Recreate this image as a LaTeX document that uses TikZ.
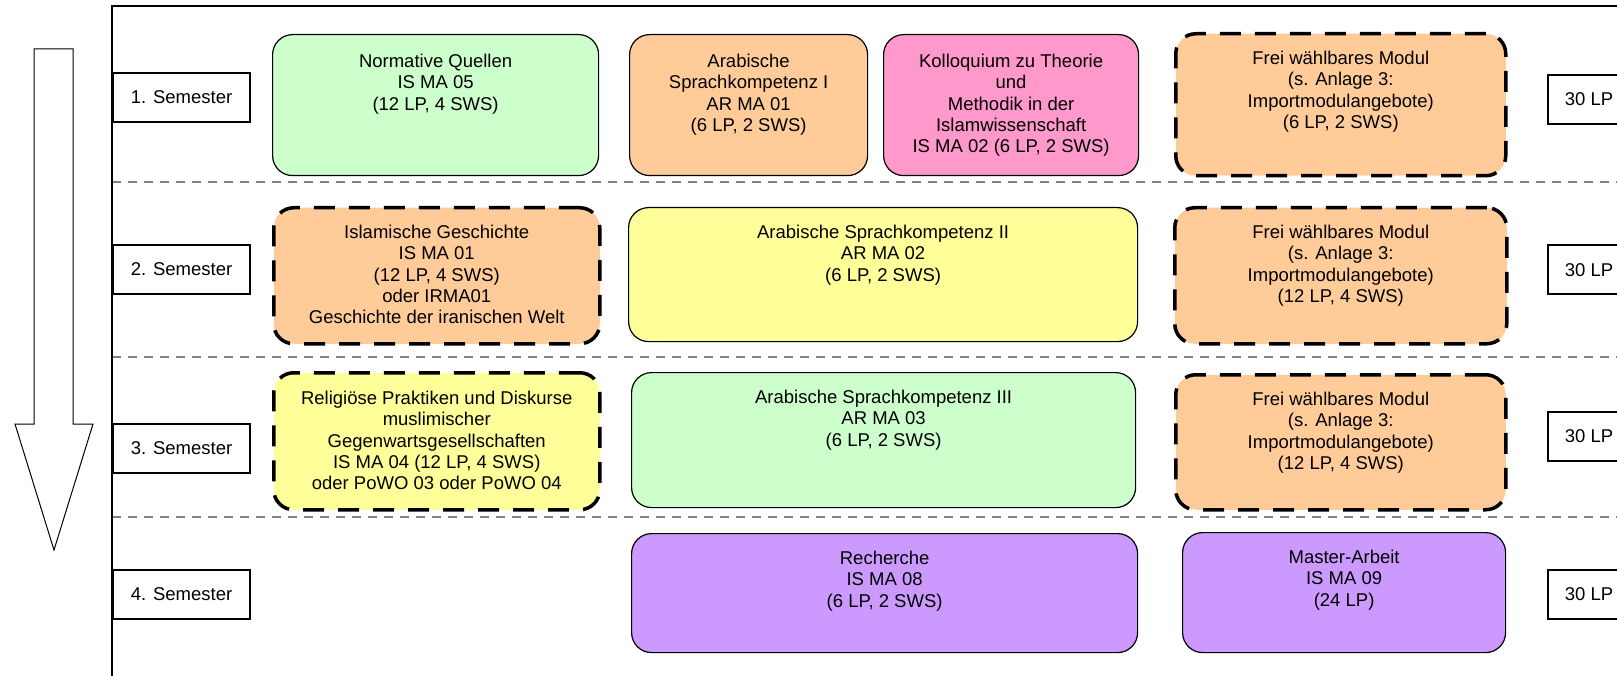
\documentclass[tikz,border=0pt]{standalone}
\usepackage{fontspec}
\setmainfont{Liberation Sans}
\usetikzlibrary{positioning}

\definecolor{modgruen}{HTML}{CCFFCC}
\definecolor{modorange}{HTML}{FFCC99}
\definecolor{modrosa}{HTML}{FF99CC}
\definecolor{modgelb}{HTML}{FFFF99}
\definecolor{modlila}{HTML}{CC99FF}

\tikzset{
  modul/.style={draw, line width=1.2pt, rounded corners=20pt, anchor=north west, inner sep=0pt},
  wahlmodul/.style={modul, line width=3.5pt, dash pattern=on 21pt off 14pt},
  modtext/.style={align=center, inner sep=0pt},
  semester/.style={draw, fill=white, line width=2pt, minimum width=137pt, minimum height=49pt, inner sep=0pt, anchor=west},
  trenner/.style={draw=black!50, line width=1.5pt, dash pattern=on 9pt off 7pt}
}

\begin{document}
\begin{tikzpicture}[x=1pt, y=-1pt, font=\fontsize{18.5}{21.2}\selectfont]
\useasboundingbox (0,0) rectangle (1617,676);
\clip (0,0) rectangle (1617,676);

% Pfeil links
\draw[line width=1pt, fill=white] (34,49) -- (73,49) -- (73,424) -- (93,424) -- (54,550) -- (15,424) -- (34,424) -- cycle;

% Rahmen und Trennlinien
\foreach \y in {182,357,517}
  \draw[trenner] (112,\y) -- (1617,\y);
\draw[line width=2pt] (1640,6) -- (112,6) -- (112,700);

\node[semester] (sem1) at (112,97.5) {1. Semester};
\node[semester] (sem2) at (112,269.5) {2. Semester};
\node[semester] (sem3) at (112,448.5) {3. Semester};
\node[semester] (sem4) at (112,594) {4. Semester};

\node[semester, minimum width=82pt] (lp1) at (1547,99.5) {30 LP};
\node[semester, minimum width=82pt] (lp2) at (1547,270) {30 LP};
\node[semester, minimum width=82pt] (lp3) at (1547,436) {30 LP};
\node[semester, minimum width=82pt] (lp4) at (1547,594) {30 LP};

% 1. Semester
\node[modul, fill=modgruen, minimum width=326pt, minimum height=141pt] (nq) at (272,34) {};
\node[modtext, below=20pt of nq.north] (nqtext) {Normative Quellen\\IS MA 05\\(12 LP, 4 SWS)};
\node[modul, fill=modorange, minimum width=238pt, minimum height=141pt] (ar1) at (629,34) {};
\node[modtext, below=20pt of ar1.north] (ar1text) {Arabische\\Sprachkompetenz I\\AR MA 01\\(6 LP, 2 SWS)};
\node[modul, fill=modrosa, minimum width=255pt, minimum height=141pt] (koll) at (883,34) {};
\node[modtext, below=20pt of koll.north] (kolltext) {Kolloquium zu Theorie\\und\\Methodik in der\\Islamwissenschaft\\IS MA 02 (6 LP, 2 SWS)};
\node[wahlmodul, fill=modorange, minimum width=330pt, minimum height=142pt] (frei1) at (1174,32) {};
\node[modtext, below=19pt of frei1.north] (frei1text) {Frei wählbares Modul\\(s. Anlage 3:\\Importmodulangebote)\\(6 LP, 2 SWS)};

% 2. Semester
\node[wahlmodul, fill=modorange, minimum width=326pt, minimum height=136pt] (ig) at (272,206) {};
\node[modtext, below=19pt of ig.north] (igtext) {Islamische Geschichte\\IS MA 01\\(12 LP, 4 SWS)\\oder IRMA01\\Geschichte der iranischen Welt};
\node[modul, fill=modgelb, minimum width=509pt, minimum height=134pt] (ar2) at (628,207) {};
\node[modtext, below=18pt of ar2.north] (ar2text) {Arabische Sprachkompetenz II\\AR MA 02\\(6 LP, 2 SWS)};
\node[wahlmodul, fill=modorange, minimum width=332pt, minimum height=136pt] (frei2) at (1173,206) {};
\node[modtext, below=19pt of frei2.north] (frei2text) {Frei wählbares Modul\\(s. Anlage 3:\\Importmodulangebote)\\(12 LP, 4 SWS)};

% 3. Semester
\node[wahlmodul, fill=modgelb, minimum width=326pt, minimum height=137pt] (rp) at (272,371) {};
\node[modtext, below=20pt of rp.north] (rptext) {Religiöse Praktiken und Diskurse\\muslimischer\\Gegenwartsgesellschaften\\IS MA 04 (12 LP, 4 SWS)\\oder PoWO 03 oder PoWO 04};
\node[modul, fill=modgruen, minimum width=504pt, minimum height=135pt] (ar3) at (631,372) {};
\node[modtext, below=18pt of ar3.north] (ar3text) {Arabische Sprachkompetenz III\\AR MA 03\\(6 LP, 2 SWS)};
\node[wahlmodul, fill=modorange, minimum width=330pt, minimum height=135pt] (frei3) at (1174,373) {};
\node[modtext, below=19pt of frei3.north] (frei3text) {Frei wählbares Modul\\(s. Anlage 3:\\Importmodulangebote)\\(12 LP, 4 SWS)};

% 4. Semester
\node[modul, fill=modlila, minimum width=506pt, minimum height=119pt] (rech) at (631,533) {};
\node[modtext, below=18pt of rech.north] (rechtext) {Recherche\\IS MA 08\\(6 LP, 2 SWS)};
\node[modul, fill=modlila, minimum width=323pt, minimum height=120pt] (master) at (1182,532) {};
\node[modtext, below=18pt of master.north] (mastertext) {Master-Arbeit\\IS MA 09\\(24 LP)};
\end{tikzpicture}
\end{document}
